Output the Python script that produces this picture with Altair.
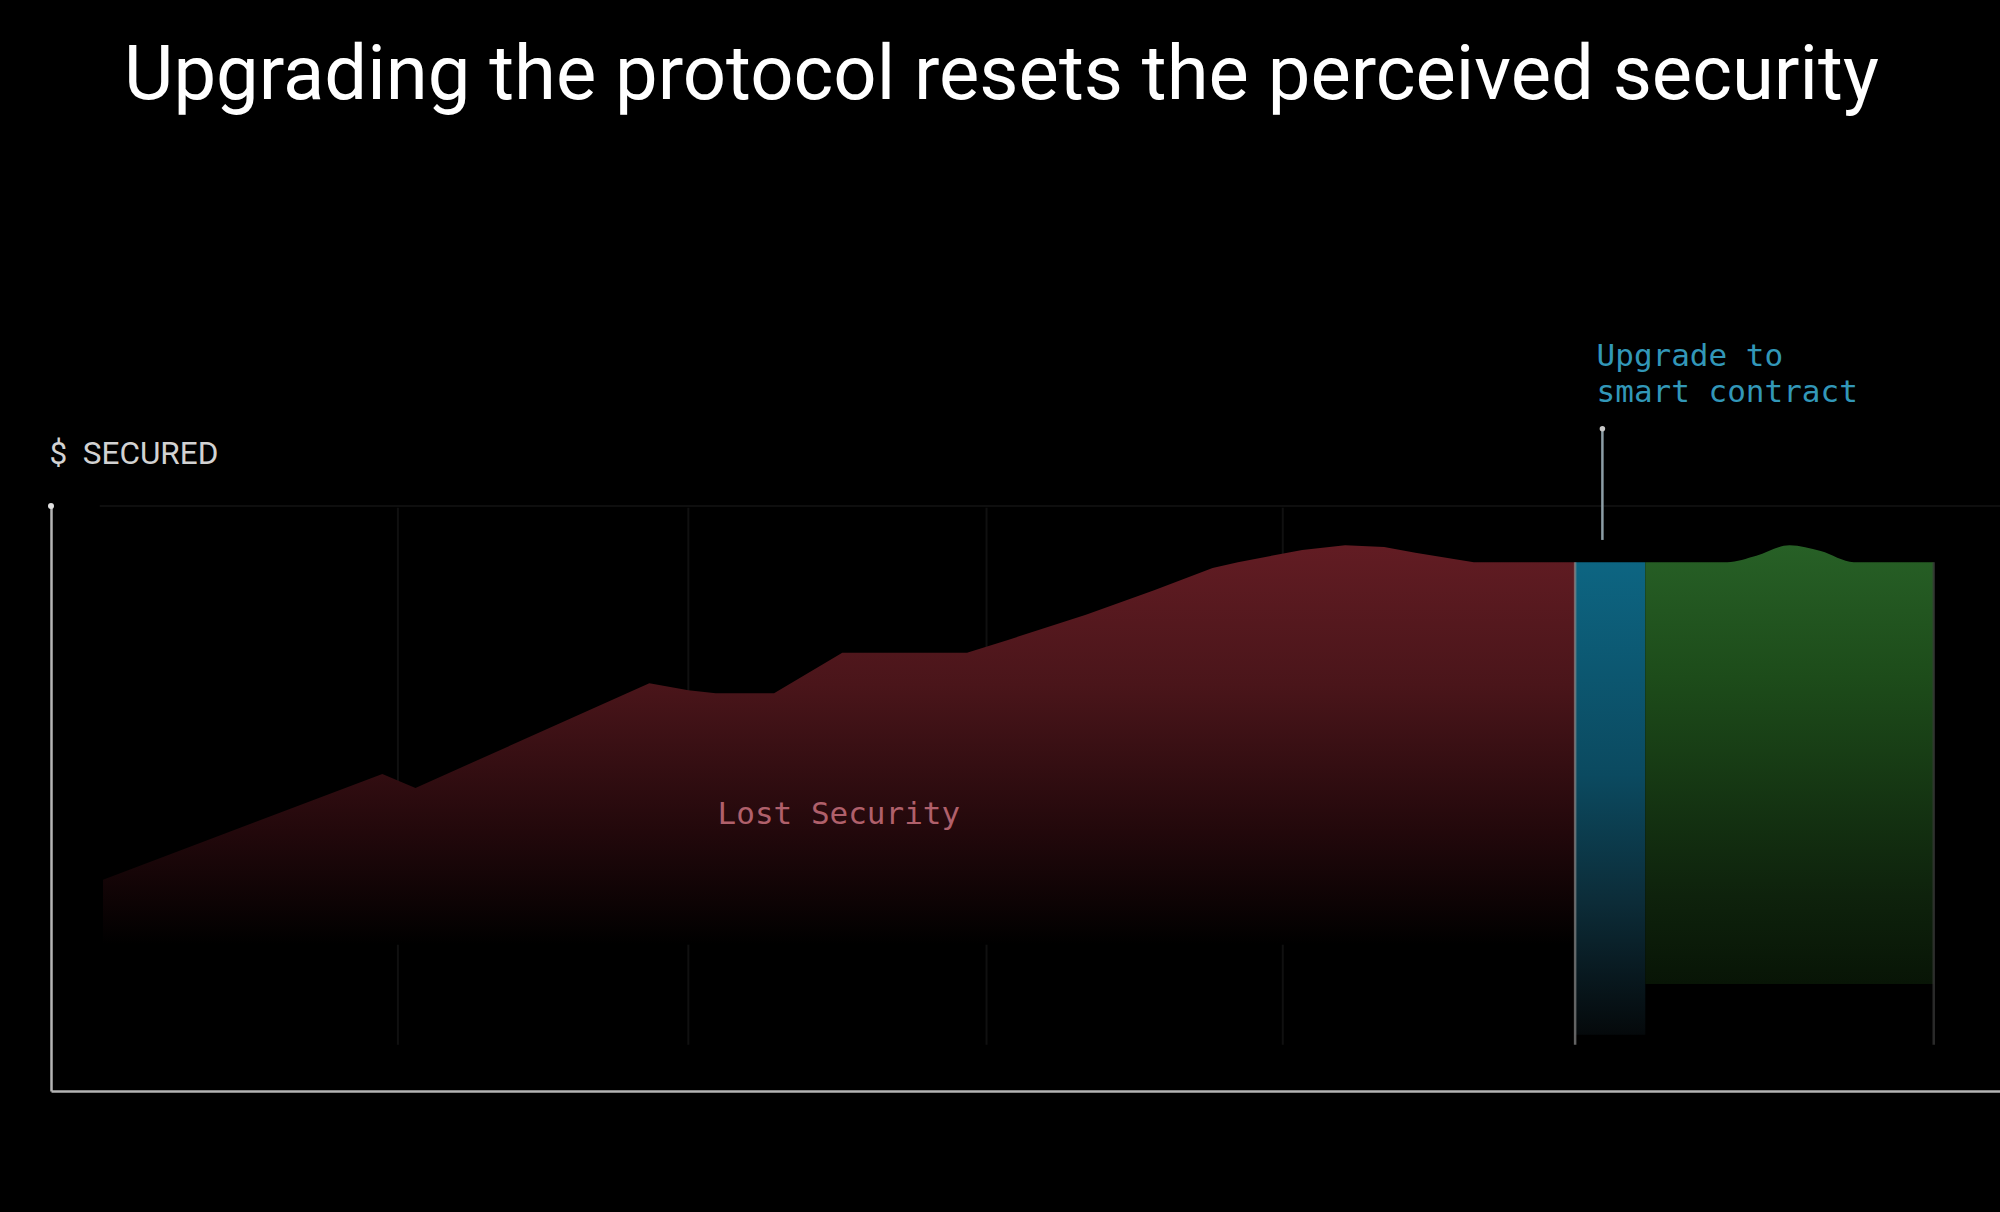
import altair as alt
import pandas as pd

# ---------------- data ----------------
title_text = "Upgrading the protocol resets the perceived security"
y_axis_label = "$\u00a0\u00a0SECURED"

# red "lost security" area (time in arbitrary units 0-100, $ secured 0-100)
red_x = [2.67, 17.0, 18.7, 30.7, 32.7, 34.1, 37.1, 40.6, 47.0, 49.1, 53.1,
         56.6, 59.6, 60.9, 64.2, 66.4, 68.4, 70.0, 73.0, 78.2]
red_y = [36.1, 54.2, 51.8, 69.7, 68.5, 68.0, 68.0, 74.9, 74.9, 77.1, 81.4,
         85.6, 89.4, 90.4, 92.5, 93.3, 93.0, 92.0, 90.4, 90.4]
red_base = 25.0

# blue upgrade band
blue_x0, blue_x1 = 78.2, 81.8
blue_top, blue_base = 90.4, 9.6

# green area (after upgrade)
green_x = [81.8, 86.0, 87.5, 89.2, 90.8, 92.5, 96.6]
green_y = [90.4, 90.4, 91.5, 93.3, 92.3, 90.4, 90.4]
green_base = 18.3

# faint vertical grid lines
grid_x = [17.8, 32.7, 48.0, 63.2]
grid_top, grid_bottom = 99.7, 7.9

# upgrade marker
marker_x = 79.6
marker_top, marker_bottom = 113.2, 94.2
upgrade_lines = ["Upgrade to", "smart contract"]
upgrade_text_x = 79.3
upgrade_text_y = [125.5, 119.3]

lost_label = "Lost Security"
lost_x, lost_y = 34.2, 47.2

# ---------------- chart ----------------
W, H = 1949, 585
xs = alt.Scale(domain=[0, 100], nice=False, zero=False)
ys = alt.Scale(domain=[0, 100], nice=False, zero=False)

red_df = pd.DataFrame({"t": red_x, "v": red_y, "b": red_base})
green_df = pd.DataFrame({"t": green_x, "v": green_y, "b": green_base})
blue_df = pd.DataFrame({"t0": [blue_x0], "t1": [blue_x1], "v0": [blue_base], "v1": [blue_top]})
grid_df = pd.DataFrame({"t": grid_x, "a": grid_top, "b": grid_bottom})
edge_df = pd.DataFrame({"t": [blue_x0, green_x[-1]], "a": [blue_top, green_y[-1]],
                        "b": [grid_bottom, grid_bottom], "c": ["#8c8c8c", "#3c3c3c"]})
marker_df = pd.DataFrame({"t": [marker_x], "a": [marker_top], "b": [marker_bottom]})
upg_df = pd.DataFrame({"t": upgrade_text_x, "v": upgrade_text_y, "s": upgrade_lines})
lost_df = pd.DataFrame({"t": [lost_x], "v": [lost_y], "s": [lost_label]})
origin_df = pd.DataFrame({"t": [0], "v": [100]})
top_df = pd.DataFrame({"t": [2.5], "t2": [100], "v": [100]})

red_grad = alt.Gradient(
    gradient="linear", x1=0, x2=0, y1=0, y2=1,
    stops=[alt.GradientStop(color="#621c23", offset=0),
           alt.GradientStop(color="#4a151a", offset=0.35),
           alt.GradientStop(color="#22080b", offset=0.72),
           alt.GradientStop(color="#000000", offset=1)])
blue_grad = alt.Gradient(
    gradient="linear", x1=0, x2=0, y1=0, y2=1,
    stops=[alt.GradientStop(color="#0d6582", offset=0),
           alt.GradientStop(color="#0b4a60", offset=0.45),
           alt.GradientStop(color="#0c2c38", offset=0.72),
           alt.GradientStop(color="#05090b", offset=1)])
green_grad = alt.Gradient(
    gradient="linear", x1=0, x2=0, y1=0, y2=1,
    stops=[alt.GradientStop(color="#276026", offset=0),
           alt.GradientStop(color="#1d4c1a", offset=0.3),
           alt.GradientStop(color="#0e220c", offset=0.8),
           alt.GradientStop(color="#081506", offset=1)])

X = lambda f="t": alt.X(f"{f}:Q", scale=xs, axis=alt.Axis(
    domain=True, domainColor="#b4b4b4", domainWidth=2.5, ticks=False, labels=False,
    grid=False, title=None))
Y = lambda f="v": alt.Y(f"{f}:Q", scale=ys, axis=alt.Axis(
    domain=True, domainColor="#b4b4b4", domainWidth=2.5, ticks=False, labels=False,
    grid=False, title=y_axis_label, titleAngle=0, titleAlign="left",
    titleBaseline="middle", titleX=-2, titleY=-52, titleFont="Roboto",
    titleFontSize=31.5, titleFontWeight="normal", titleColor="#d2d2d2"))

top_line = alt.Chart(top_df).mark_rule(color="#0e0e0e", strokeWidth=2).encode(
    x=X(), x2="t2:Q", y=Y())
grid = alt.Chart(grid_df).mark_rule(color="#101010", strokeWidth=2).encode(
    x=X(), y=Y("a"), y2="b:Q")
red = alt.Chart(red_df).mark_area(color=red_grad, interpolate="linear").encode(
    x=X(), y=Y(), y2="b:Q")
blue = alt.Chart(blue_df).mark_rect(color=blue_grad).encode(
    x=X("t0"), x2="t1:Q", y=Y("v1"), y2="v0:Q")
green = alt.Chart(green_df).mark_area(color=green_grad, interpolate="monotone").encode(
    x=X(), y=Y(), y2="b:Q")
edges = alt.Chart(edge_df).mark_rule(strokeWidth=2.5, opacity=0.7).encode(
    x=X(), y=Y("a"), y2="b:Q", color=alt.Color("c:N", scale=None))
marker = alt.Chart(marker_df).mark_rule(color="#8d9ea6", strokeWidth=2.5, clip=False).encode(
    x=X(), y=Y("a"), y2="b:Q")
marker_dot = alt.Chart(marker_df).mark_point(filled=True, color="#c8c8c8", size=30,
                                             opacity=1, clip=False).encode(
    x=X(), y=Y("a"))
origin_dot = alt.Chart(origin_df).mark_point(filled=True, color="#e0e0e0", size=36,
                                             opacity=1, clip=False).encode(
    x=X(), y=Y())
upg_text = alt.Chart(upg_df).mark_text(
    font="DejaVu Sans Mono", fontSize=31, color="#3297b8", align="left",
    baseline="middle", clip=False).encode(x=X(), y=Y(), text="s:N")
lost_text = alt.Chart(lost_df).mark_text(
    font="DejaVu Sans Mono", fontSize=31, color="#b0606b", align="left",
    baseline="middle").encode(x=X(), y=Y(), text="s:N")

chart = alt.layer(
    top_line, grid, red, blue, green, edges, marker, marker_dot,
    origin_dot, upg_text, lost_text
).properties(
    width=W, height=H,
    title=alt.TitleParams(text=title_text, font="Roboto", fontSize=76,
                          fontWeight="normal", color="#ffffff", anchor="middle",
                          frame="group", baseline="alphabetic", offset=0, dx=-24, dy=-166),
    autosize=alt.AutoSizeParams(type="none"),
    padding={"left": 51, "top": 506, "right": 0, "bottom": 121},
    background="#000000",
).configure_view(stroke=None)

chart.save("out.html", embed_options={"renderer": "svg", "actions": False})
